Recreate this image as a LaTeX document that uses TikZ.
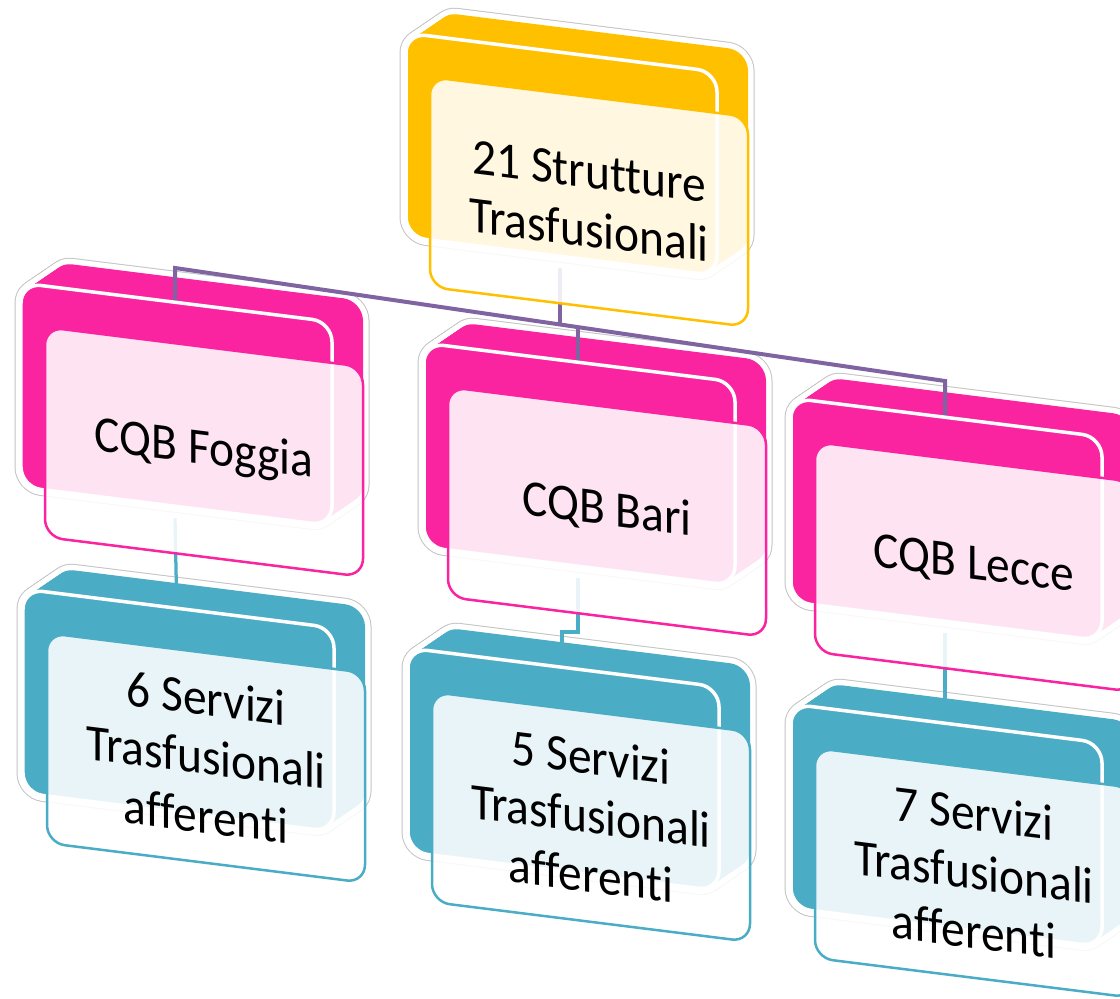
\documentclass[tikz,border=0pt]{standalone}
\usepackage{fontspec}
\setmainfont{Carlito}[Ligatures={NoCommon}]
\definecolor{cyel}{HTML}{FFC000}
\definecolor{cpink}{HTML}{FA23A0}
\definecolor{cteal}{HTML}{4BACC6}
\definecolor{cpurp}{HTML}{8064A2}
\definecolor{cgl}{HTML}{C4C4C4}
\tikzset{
  unitlbl/.style={transform shape, yscale=1.08, font=\fontsize{27}{31}\selectfont, align=center, text=black, inner sep=0pt},
  purpline/.style={draw=cpurp, line width=0.08cm},
  tealline/.style={draw=cteal, line width=0.065cm},
  panelrc/.style={rounded corners=0.4cm},
}
\newcommand\unitback[4]{%
 \begin{scope}[shift={(#1,#2)}, yslant=-0.125]
  \foreach \stp in {0,0.05,...,1.0001}
    \draw[draw=cgl, line width=0.26cm, panelrc] ({-24+31*\stp},{-41-25*\stp}) rectangle ++(311,204);
  \foreach \stp in {0,0.05,...,1.0001}
    \draw[draw=white, line width=0.22cm, panelrc] ({-24+31*\stp},{-41-25*\stp}) rectangle ++(311,204);
  \foreach \stp in {0,0.05,...,1.0001}
    \fill[#3, panelrc] ({-24+31*\stp},{-41-25*\stp}) rectangle ++(311,204);
  \coordinate (#4-t) at (130,-30);
  \coordinate (#4-b) at (130,175);
 \end{scope}}
\newcommand\unitfront[5]{%
 \begin{scope}[shift={(#1,#2)}, yslant=-0.125]
  \draw[fill=#3, draw=white, line width=0.07cm, panelrc] (-24,-41) rectangle ++(311,204);
  \draw[fill=white, fill opacity=0.88, draw=#3, line width=0.05cm, rounded corners=0.36cm] (0,0) rectangle (318,210);
  \node[unitlbl] (#4-lbl) at (159,104) {#5};
 \end{scope}}
\begin{document}
\begin{tikzpicture}[x=0.02cm, y=-0.02cm]
\useasboundingbox (0,0) rectangle (1120,999);
% back layers
\unitback{430}{77}{cyel}{top}
\unitback{45}{327}{cpink}{fog}
\unitback{448}{387}{cpink}{bar}
\unitback{815}{442}{cpink}{lec}
\unitback{47}{633}{cteal}{tf}
\unitback{432}{692}{cteal}{tb}
\unitback{815}{748}{cteal}{tl}
% bus coordinates
\coordinate (busF) at (175,268);
\coordinate (busT) at (560,324.5);
\coordinate (busB) at (578,327.2);
\coordinate (busL) at (945,381);
\coordinate (jogB) at (570,632);
% connectors
\draw[purpline] (fog-t) -- (busF) -- (busL) -- (lec-t);
\draw[purpline] (top-b) -- (busT);
\draw[purpline] (busB) -- (bar-t);
\draw[tealline] (fog-b) -- (tf-t);
\draw[tealline] (bar-b) |- (jogB) -| (tb-t);
\draw[tealline] (lec-b) -- (tl-t);
% front layers
\unitfront{430}{77}{cyel}{top}{21 Strutture\\Trasfusionali}
\unitfront{45}{327}{cpink}{fog}{CQB Foggia}
\unitfront{448}{387}{cpink}{bar}{CQB Bari}
\unitfront{815}{442}{cpink}{lec}{CQB Lecce}
\unitfront{47}{633}{cteal}{tf}{6 Servizi\\Trasfusionali\\afferenti}
\unitfront{432}{692}{cteal}{tb}{5 Servizi\\Trasfusionali\\afferenti}
\unitfront{815}{748}{cteal}{tl}{7 Servizi\\Trasfusionali\\afferenti}
\end{tikzpicture}
\end{document}
